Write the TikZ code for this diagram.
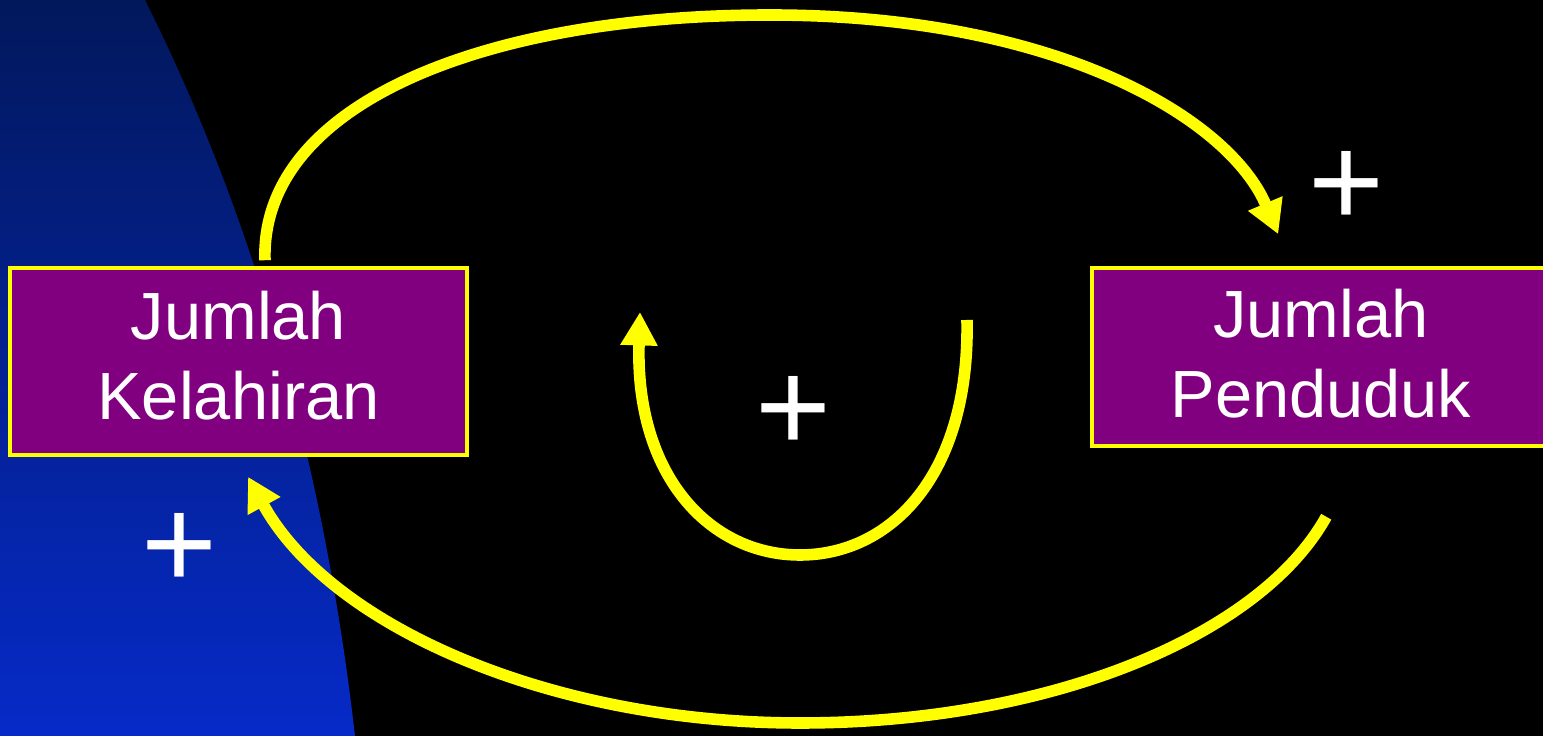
\documentclass[tikz,border=0pt]{standalone}
\usepackage{fontspec}
\setmainfont{Liberation Sans}
\usepackage{tikz}
\usetikzlibrary{arrows.meta, calc}

\definecolor{loopyellow}{RGB}{255,255,0}
\definecolor{boxpurple}{RGB}{128,0,128}
\definecolor{navytop}{RGB}{2,24,92}
\definecolor{navymid}{RGB}{4,38,160}
\definecolor{navybot}{RGB}{6,42,200}

\begin{document}
\begin{tikzpicture}[
  font=\fontsize{19}{22.8}\selectfont,
  varbox/.style={draw=loopyellow, line width=1pt, fill=boxpurple, text=white,
    align=center, inner sep=0pt},
  link/.style={draw=loopyellow, line width=3.3pt, -{Triangle[length=9.5pt, width=10pt]}},
  polarity/.style={text=white, font=\fontsize{37}{37}\selectfont, inner sep=0pt, yshift=-0.06cm},
]
  % Background
  \useasboundingbox (0,0) rectangle (15.43,7.36);
  \fill[black] (0,0) rectangle (15.43,7.36);
  \shade[top color=navytop, middle color=navymid, bottom color=navybot]
    (0,7.36) -- (1.45,7.36) .. controls (2.40,5.46) and (3.20,3.06) .. (3.55,0) -- (0,0) -- cycle;

  % Variables
  \node[varbox, minimum width=4.57cm, minimum height=1.87cm] (kel) at (2.385,3.745)
    {Jumlah\\Kelahiran\rule[-0.12cm]{0pt}{0pt}};
  \node[varbox, minimum width=4.58cm, minimum height=1.78cm] (pen) at (13.21,3.79)
    {Jumlah\\Penduduk\rule[-0.08cm]{0pt}{0pt}};

  % Polarity signs
  \node[polarity] (plustop) at (13.46,5.53) {+};
  \node[polarity] (plusloop) at (7.93,3.28) {+};
  \node[polarity] (plusleft) at (1.79,1.91) {+};

  % Free ends of the links
  \coordinate (penin) at ($(pen.north west)+(1.88,0.32)$);
  \coordinate (penout) at ($(pen.south west)+(2.36,-0.69)$);
  \coordinate (kelin) at ($(kel.south)+(0.095,-0.20)$);
  \coordinate (kelout) at ($(kel.north)+(0.265,0.06)$);
  \coordinate (loopstart) at (9.67,4.16);
  \coordinate (loopend) at (6.40,4.24);

  % Links
  \draw[link] (kelout) .. controls (2.60,6.30) and (4.80,7.21) .. (7.70,7.21)
    .. controls (10.60,7.21) and (12.30,6.16) .. (penin);
  \draw[link] (penout) .. controls (12.60,1.00) and (10.50,0.13) .. (8.00,0.13)
    .. controls (5.50,0.13) and (3.30,1.10) .. (kelin);

  % Loop marker
  \draw[link] (loopstart) .. controls (9.70,2.60) and (8.90,1.81) .. (8.00,1.81)
    .. controls (7.10,1.81) and (6.35,2.60) .. (loopend);
\end{tikzpicture}
\end{document}
